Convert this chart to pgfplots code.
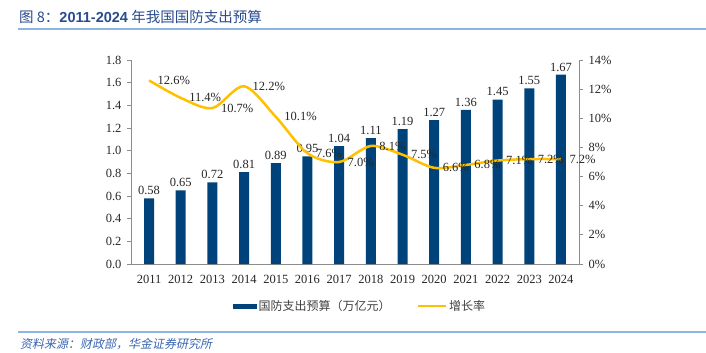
\documentclass[border=0pt]{standalone}
\usepackage{fontspec}
\setmainfont{Liberation Serif}
\newfontfamily\cjk{Noto Sans CJK SC}
\newfontfamily\cjkit[FakeSlant=0.2]{Noto Sans CJK SC}
\newfontfamily\arial{Liberation Sans}
\usepackage{pgfplots}
\usepackage{pgfplotstable}
\pgfplotsset{compat=1.18}
\definecolor{navy}{HTML}{00437A}
\definecolor{gold}{HTML}{FFC000}
\definecolor{axgray}{HTML}{8C8C8C}
\definecolor{titleblue}{HTML}{2A4B8D}
\definecolor{lineblue}{HTML}{8DB4E2}
\definecolor{srcblue}{HTML}{3A66B0}
\definecolor{legtext}{HTML}{404040}
\pgfplotstableread{
x v g
0 0.58 12.6
1 0.65 11.4
2 0.72 10.7
3 0.81 12.2
4 0.89 10.1
5 0.95 7.6
6 1.04 7.0
7 1.11 8.1
8 1.19 7.5
9 1.27 6.6
10 1.36 6.8
11 1.45 7.1
12 1.55 7.2
13 1.67 7.2
}\data
\begin{document}
\begin{tikzpicture}
\useasboundingbox (0,0) rectangle (706pt,353pt);
\node[anchor=west, text=titleblue, inner sep=0pt] at (19pt,336pt) {\fontsize{14.5}{16}\selectfont\cjk 图 8：{\arial\bfseries 2011-2024} 年我国国防支出预算};
\draw[lineblue, line width=1.5pt] (18pt,324pt) -- (706pt,324pt);
\draw[lineblue, line width=1.2pt] (18pt,21pt) -- (706pt,21pt);
\node[anchor=west, text=srcblue, inner sep=0pt] at (20pt,9pt) {\fontsize{12}{14}\selectfont\cjkit 资料来源：财政部，华金证券研究所};
\begin{axis}[at={(131pt,89pt)}, anchor=south west, width=448pt, height=204pt, scale only axis,
  xmin=-0.57, xmax=13.57, ymin=0, ymax=1.8,
  axis x line*=bottom, axis y line*=left,
  axis line style={axgray, line width=0.8pt, -},
  xtick={0,1,2,3,4,5,6,7,8,9,10,11,12,13},
  xticklabels={2011,2012,2013,2014,2015,2016,2017,2018,2019,2020,2021,2022,2023,2024},
  x tick style={draw=none},
  xticklabel style={yshift=-4pt},
  ytick={0,0.2,0.4,0.6,0.8,1.0,1.2,1.4,1.6,1.8},
  y tick style={axgray, line width=0.8pt},
  tick align=outside, major tick length=4pt,
  yticklabel style={xshift=-2pt, /pgf/number format/.cd, fixed, fixed zerofill, precision=1},
  tick label style={font=\fontsize{12.5}{14}\selectfont, text=black!85},
  /pgf/number format/assume math mode=true,
  ybar, bar width=10pt,
  legend style={at={(0.511,-0.206)}, anchor=center, draw=none, fill=none, legend columns=2,
    font=\cjk\fontsize{12}{14}\selectfont, text=legtext,
    /tikz/every even column/.append style={column sep=24pt}},
  legend cell align=left,
]
\addplot[fill=navy, draw=none,
  nodes near coords,
  nodes near coords style={font=\fontsize{12.5}{14}\selectfont, black!85, /pgf/number format/.cd, fixed, fixed zerofill, precision=2, assume math mode=true},
  legend image code/.code={\fill[navy] (0pt,-2.5pt) rectangle (24pt,2.5pt);}
] table[x=x,y=v]{\data};
\addlegendentry{国防支出预算（万亿元）}
\addlegendimage{legend image code/.code={\draw[gold, line width=2.5pt] (0pt,0pt) -- (28pt,0pt);}}
\addlegendentry{增长率}
\end{axis}
\begin{axis}[at={(131pt,89pt)}, anchor=south west, width=448pt, height=204pt, scale only axis,
  xmin=-0.57, xmax=13.57, ymin=0, ymax=14,
  axis y line*=right, axis x line=none,
  axis line style={axgray, line width=0.8pt, -},
  ytick={0,2,4,6,8,10,12,14},
  yticklabel={\pgfmathprintnumber{\tick}\%},
  yticklabel style={xshift=2pt},
  y tick style={axgray, line width=0.8pt},
  tick align=outside, major tick length=4pt,
  tick label style={font=\fontsize{12.5}{14}\selectfont, text=black!85},
  /pgf/number format/assume math mode=true,
]
\addplot[gold, line width=2.5pt, smooth, no marks,
  nodes near coords={\pgfmathprintnumber[fixed,fixed zerofill,precision=1,assume math mode=true]{\pgfplotspointmeta}\%},
  nodes near coords style={font=\fontsize{12.5}{14}\selectfont, black!85, anchor=west, xshift=4pt}
] table[x=x,y=g]{\data};
\end{axis}
\end{tikzpicture}
\end{document}
